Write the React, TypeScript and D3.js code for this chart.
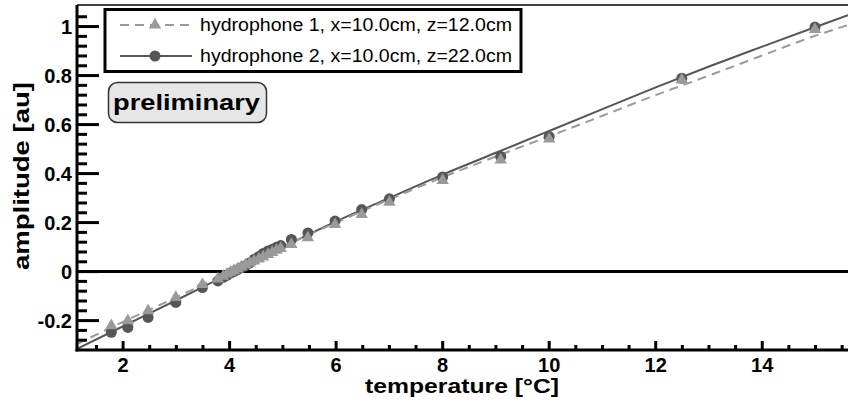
import React from "react";
import * as d3 from "d3";

// ---- data ----
const temps = [1.78, 2.09, 2.47, 2.99, 3.49, 3.78, 3.88, 3.95, 4.02, 4.08, 4.15, 4.22, 4.3, 4.38, 4.46, 4.55, 4.63, 4.72, 4.8, 4.88, 4.96, 5.16, 5.47, 5.98, 6.48, 7.0, 8.0, 9.09, 10.0, 12.49, 14.99];
const hydro1 = [-0.221, -0.2, -0.16, -0.105, -0.052, -0.03, -0.019, -0.01, -0.002, 0.004, 0.011, 0.019, 0.027, 0.035, 0.043, 0.052, 0.06, 0.07, 0.078, 0.087, 0.095, 0.111, 0.138, 0.192, 0.233, 0.283, 0.372, 0.456, 0.541, 0.782, 0.988];
const hydro2 = [-0.248, -0.228, -0.187, -0.126, -0.065, -0.038, -0.024, -0.015, -0.006, 0.0, 0.008, 0.016, 0.024, 0.036, 0.05, 0.062, 0.074, 0.084, 0.091, 0.099, 0.106, 0.131, 0.158, 0.206, 0.253, 0.297, 0.386, 0.47, 0.551, 0.789, 0.998];

const fitTemps = [1.135, 2, 3, 4, 5, 6, 7, 8, 9, 10, 11, 12, 13, 14, 15, 15.61];
const fit1 = [-0.296, -0.205, -0.105, 0.0, 0.103, 0.2, 0.295, 0.385, 0.47, 0.552, 0.636, 0.72, 0.8, 0.882, 0.963, 1.006];
const fit2 = [-0.315, -0.223, -0.117, -0.008, 0.1, 0.205, 0.301, 0.396, 0.485, 0.574, 0.663, 0.752, 0.837, 0.918, 0.998, 1.046];

const xTicks = [2, 4, 6, 8, 10, 12, 14];
const xTickLabels = ["2", "4", "6", "8", "10", "12", "14"];
const yTicks = [-0.2, 0, 0.2, 0.4, 0.6, 0.8, 1];
const yTickLabels = ["-0.2", "0", "0.2", "0.4", "0.6", "0.8", "1"];

const legendLabels = ["hydrophone 1, x=10.0cm, z=12.0cm", "hydrophone 2, x=10.0cm, z=22.0cm"];

const xDomain = [1.135, 15.61];
const yDomain = [-0.32, 1.088];

// ---- layout ----
const W = 848, H = 403;
const L = 77, R = 848, T = 5, B = 350;
const FONT = "'Liberation Sans', Arial, Helvetica, sans-serif";
const LIGHT = "#9a9a9a";
const DARK = "#565656";

export default function App() {
  const x = d3.scaleLinear().domain(xDomain).range([L, R]);
  const y = d3.scaleLinear().domain(yDomain).range([B, T]);

  const xMinor = d3.range(1.5, 15.6, 0.5).filter((v) => Math.abs(v / 2 - Math.round(v / 2)) > 1e-6);
  const yMinor = d3.range(-0.28, 1.08, 0.04).filter((v) => Math.abs(v / 0.2 - Math.round(v / 0.2)) > 1e-6);

  const line = d3
    .line<number>()
    .x((_, i) => x(fitTemps[i]))
    .curve(d3.curveMonotoneX);
  const path1 = line.y((d) => y(d))(fit1) || "";
  const path2 = line.y((d) => y(d))(fit2) || "";

  const tri = d3.symbol(d3.symbolTriangle, 66)() || "";

  return (
    <svg width={W} height={H} style={{ position: "absolute", left: 0, top: 0, background: "#fff" }} fontFamily={FONT}>
      <defs>
        <clipPath id="plot">
          <rect x={L} y={T} width={R - L} height={B - T} />
        </clipPath>
      </defs>
      <rect x={0} y={0} width={W} height={H} fill="#fff" />

      {/* zero line */}
      <line x1={L} x2={R} y1={y(0)} y2={y(0)} stroke="#000" strokeWidth={3} />

      {/* fit curves */}
      <g clipPath="url(#plot)">
        <path d={path2} fill="none" stroke={DARK} strokeWidth={2} />
        <path d={path1} fill="none" stroke={LIGHT} strokeWidth={2} strokeDasharray="9,6" />
        {/* hydrophone 2 circles */}
        {temps.map((t, i) => (
          <circle key={"c" + i} cx={x(t)} cy={y(hydro2[i])} r={5.5} fill={DARK} />
        ))}
        {/* hydrophone 1 triangles */}
        {temps.map((t, i) => (
          <path key={"t" + i} d={tri} transform={`translate(${x(t)},${y(hydro1[i])})`} fill={LIGHT} />
        ))}
      </g>

      {/* frame */}
      <line x1={L} x2={R} y1={T} y2={T} stroke="#000" strokeWidth={1.5} />
      <line x1={L} x2={L} y1={T} y2={B + 1.5} stroke="#000" strokeWidth={3} />
      <line x1={L - 1.5} x2={R} y1={B} y2={B} stroke="#000" strokeWidth={3} />

      {/* y ticks */}
      {yTicks.map((v, i) => (
        <g key={"yt" + i}>
          <line x1={L} x2={L + 22} y1={y(v)} y2={y(v)} stroke="#000" strokeWidth={3} />
          <text x={72} y={y(v)} dy="0.36em" textAnchor="end" fontSize={20} fontWeight="bold">
            {yTickLabels[i]}
          </text>
        </g>
      ))}
      {yMinor.map((v, i) => (
        <line key={"ym" + i} x1={L} x2={L + 10} y1={y(v)} y2={y(v)} stroke="#000" strokeWidth={3} />
      ))}

      {/* x ticks */}
      {xTicks.map((v, i) => (
        <g key={"xt" + i}>
          <line x1={x(v)} x2={x(v)} y1={B} y2={B - 9} stroke="#000" strokeWidth={3} />
          <text x={x(v)} y={372} textAnchor="middle" fontSize={20} fontWeight="bold">
            {xTickLabels[i]}
          </text>
        </g>
      ))}
      {xMinor.map((v, i) => (
        <line key={"xm" + i} x1={x(v)} x2={x(v)} y1={B} y2={B - 5} stroke="#000" strokeWidth={3} />
      ))}

      {/* axis titles */}
      <text x={365} y={393} fontSize={21} fontWeight="bold" textLength={194} lengthAdjust="spacingAndGlyphs">
        temperature [°C]
      </text>
      <text
        transform="translate(29,270) rotate(-90)"
        x={0}
        y={0}
        fontSize={22}
        fontWeight="bold"
        textLength={188}
        lengthAdjust="spacingAndGlyphs"
      >
        amplitude [au]
      </text>

      {/* legend */}
      <rect x={105} y={9.5} width={416} height={62} fill="#fff" stroke="#000" strokeWidth={3} />
      <line x1={120} x2={192} y1={25} y2={25} stroke={LIGHT} strokeWidth={2} strokeDasharray="9,6" />
      <path d={tri} transform="translate(155,25)" fill={LIGHT} />
      <line x1={120} x2={192} y1={56} y2={56} stroke={DARK} strokeWidth={2} />
      <circle cx={155} cy={56} r={5.5} fill={DARK} />
      <text x={200} y={31} fontSize={18} textLength={312} lengthAdjust="spacingAndGlyphs">
        {legendLabels[0]}
      </text>
      <text x={200} y={62} fontSize={18} textLength={312} lengthAdjust="spacingAndGlyphs">
        {legendLabels[1]}
      </text>

      {/* preliminary box */}
      <rect x={108.5} y={82.5} width={158} height={40} rx={9} ry={9} fill="#e6e6e6" stroke="#333" strokeWidth={1.5} />
      <text x={113} y={110} fontSize={22} fontWeight="bold" textLength={147} lengthAdjust="spacingAndGlyphs">
        preliminary
      </text>
    </svg>
  );
}
